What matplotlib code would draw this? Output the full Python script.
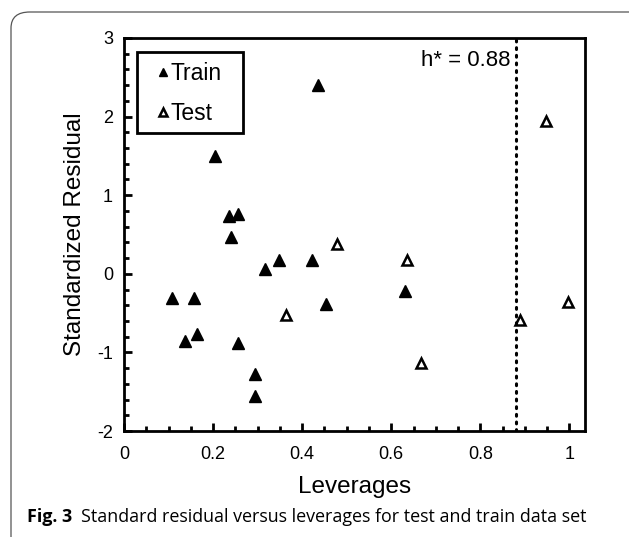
import numpy as np
import matplotlib
matplotlib.use("Agg")
import matplotlib.pyplot as plt
from matplotlib.patches import FancyBboxPatch, Rectangle
from matplotlib.ticker import MultipleLocator

# 训练集数据 (leverage, standardized residual)
train_h = [0.107, 0.158, 0.138, 0.164, 0.204, 0.235, 0.255, 0.240, 0.255,
           0.295, 0.295, 0.316, 0.348, 0.423, 0.435, 0.454, 0.631]
train_r = [-0.31, -0.31, -0.85, -0.77, 1.50, 0.73, 0.76, 0.47, -0.88,
           -1.28, -1.55, 0.06, 0.18, 0.18, 2.40, -0.39, -0.22]

# 测试集数据
test_h = [0.363, 0.479, 0.636, 0.667, 0.890, 0.948, 0.997]
test_r = [-0.53, 0.38, 0.18, -1.13, -0.59, 1.94, -0.36]

h_star = 0.88
x_ticks = [0, 0.2, 0.4, 0.6, 0.8, 1]
x_ticklabels = ["0", "0.2", "0.4", "0.6", "0.8", "1"]
y_ticks = [-2, -1, 0, 1, 2, 3]

plt.rcParams['font.family'] = ['Liberation Sans', 'DejaVu Sans']
plt.rcParams['axes.unicode_minus'] = False

fig = plt.figure(figsize=(6.29, 5.37), dpi=100)
ax = fig.add_axes([124/629, 1-431/537, 461/629, 393/537])

# 外框 (圆角, 底部被裁掉)
frame = FancyBboxPatch((11/629, -0.05), 640/629, 1-12/537+0.05,
                       boxstyle="round,pad=0,rounding_size=0.03",
                       transform=fig.transFigure, fill=False,
                       edgecolor="#555555", linewidth=0.9, clip_on=False)
fig.patches.append(frame)

ax.plot(train_h, train_r, linestyle='none', marker='^', ms=8.3,
        color='black', label='Train')
ax.plot(test_h, test_r, linestyle='none', marker='^', ms=6.8,
        markerfacecolor='white', markeredgecolor='black', mew=1.8,
        label='Test')

ax.axvline(h_star, color='black', linestyle=(0, (0.6, 1.9)), lw=2.2,
           dash_capstyle='round')
ax.text(h_star - 0.012, 2.72, "h* = %.2f" % h_star, ha='right', va='center',
        fontsize=16)

ax.set_xlim(0, 1.035)
ax.set_ylim(-2, 3)
ax.set_xticks(x_ticks)
ax.set_xticklabels(x_ticklabels)
ax.set_yticks(y_ticks)
ax.xaxis.set_minor_locator(MultipleLocator(0.05))
ax.yaxis.set_minor_locator(MultipleLocator(0.2))
ax.tick_params(which='both', direction='in', width=2, labelsize=13,
               top=False, right=False)
ax.tick_params(which='major', length=6)
ax.tick_params(which='minor', length=3.5)
ax.tick_params(axis='x', pad=10.5)
ax.tick_params(axis='y', pad=8)
for s in ax.spines.values():
    s.set_linewidth(2)

ax.set_xlabel("Leverages", fontsize=17.5, labelpad=9.5)
ax.set_ylabel("Standardized Residual", fontsize=17.5, labelpad=8)

# 图例: 边框单独画
ax.add_patch(Rectangle((0.028, 0.758), 0.230, 0.206, transform=ax.transAxes,
                       fill=False, edgecolor='black', lw=2, zorder=5))
leg = ax.legend(loc='upper left', bbox_to_anchor=(0.076, 0.939),
                borderaxespad=0, borderpad=0, fontsize=16.5, markerscale=0.75,
                handlelength=0.35, handletextpad=0.15, labelspacing=0.76,
                frameon=False)

cap = fig.text(27/629, 20/537, "Fig. 3", fontsize=12.9, fontweight='bold',
               family=['Open Sans', 'DejaVu Sans'], va='center')
ax.annotate("Standard residual versus leverages for test and train data set",
            xy=(1, 0.5), xycoords=cap, xytext=(6, 0),
            textcoords='offset points', va='center', fontsize=12.9,
            family=['Open Sans', 'DejaVu Sans'], annotation_clip=False)

fig.savefig("out.png", dpi=100)
